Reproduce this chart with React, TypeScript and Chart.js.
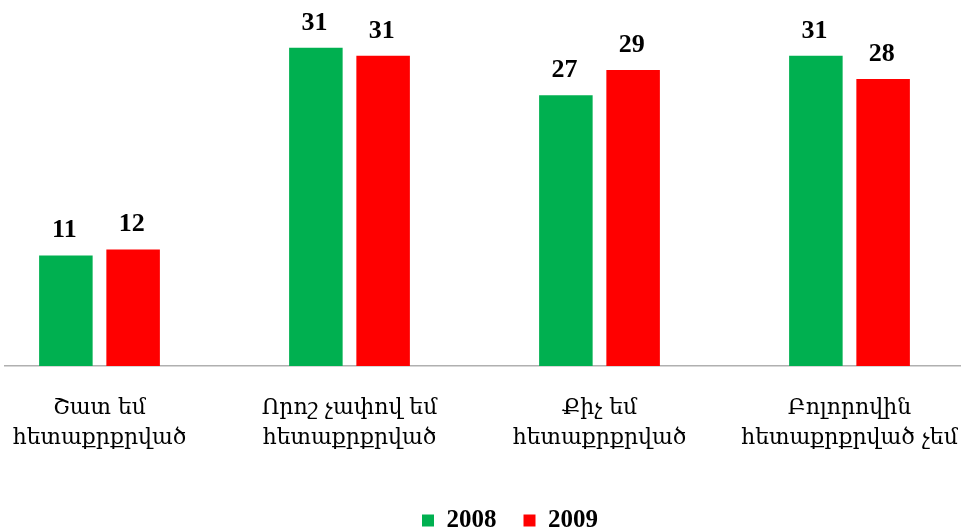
import React, { useEffect, useRef } from "react";
import { Chart, registerables } from "chart.js";

Chart.register(...registerables);

const categories: string[][] = [
  ["Շատ եմ", "հետաքրքրված"],
  ["Որոշ չափով եմ", "հետաքրքրված"],
  ["Քիչ եմ", "հետաքրքրված"],
  ["Բոլորովին", "հետաքրքրված չեմ"],
];
const seriesNames = ["2008", "2009"];
const values2008 = [10.9, 31.4, 26.7, 30.6];
const values2009 = [11.5, 30.6, 29.2, 28.3];
const seriesColors = ["#00B050", "#FF0000"];

const CANVAS_W = 1015;
const CANVAS_H = 543;
const X_MIN = -0.378;
const X_MAX = X_MIN + (CANVAS_W - 5) / 250;

const dataLabelPlugin = {
  id: "dataLabels",
  afterDatasetsDraw(chart: any) {
    const ctx = chart.ctx;
    ctx.save();
    ctx.font = 'bold 26px "Liberation Serif"';
    ctx.fillStyle = "#000";
    ctx.textAlign = "center";
    ctx.textBaseline = "alphabetic";
    chart.data.datasets.forEach((ds: any, di: number) => {
      const meta = chart.getDatasetMeta(di);
      meta.data.forEach((bar: any, i: number) => {
        const v = ds.data[i].y;
        ctx.fillText(String(Math.round(v)), bar.x - 1.5, bar.y - 18);
      });
    });
    ctx.restore();
  },
};

export default function App() {
  const canvasRef = useRef<HTMLCanvasElement | null>(null);

  useEffect(() => {
    if (!canvasRef.current) return;
    const seriesValues = [values2008, values2009];
    const chart = new Chart(canvasRef.current, {
      type: "bar",
      data: {
        datasets: seriesNames.map((name, si) => ({
          label: name,
          data: seriesValues[si].map((y, i) => ({ x: i, y })),
          backgroundColor: seriesColors[si],
          borderWidth: 0,
          categoryPercentage: 0.538,
          barPercentage: 0.796,
        })),
      },
      options: {
        animation: false,
        responsive: true,
        maintainAspectRatio: false,
        layout: { padding: { left: 5, right: 0, top: 1, bottom: 0 } },
        scales: {
          x: {
            type: "linear",
            min: X_MIN,
            max: X_MAX,
            offset: false,
            grid: { display: false, drawTicks: false },
            border: { display: true, color: "#B0B0B0", width: 1.5 },
            afterBuildTicks: (scale: any) => {
              scale.ticks = categories.map((_, i) => ({ value: i }));
            },
            afterFit: (scale: any) => {
              scale.height = 115;
              scale.paddingLeft = 0;
              scale.paddingRight = 0;
            },
            ticks: {
              autoSkip: false,
              maxRotation: 0,
              minRotation: 0,
              padding: 27,
              color: "#000",
              font: { family: '"DejaVu Serif"', size: 22, lineHeight: 1.36 },
              callback: (v: any) => categories[v] ?? "",
            },
          },
          y: {
            display: false,
            min: 0,
            max: 36,
          },
        },
        plugins: {
          legend: {
            position: "bottom",
            labels: {
              boxWidth: 12,
              boxHeight: 12,
              padding: 27,
              color: "#000",
              font: { family: '"Liberation Serif"', size: 25, weight: "bold" },
            },
          },
          tooltip: { enabled: false },
        },
      },
      plugins: [dataLabelPlugin],
    } as any);
    return () => chart.destroy();
  }, []);

  return (
    <div
      style={{
        position: "fixed",
        left: 0,
        top: 0,
        width: 961,
        height: 530,
        overflow: "hidden",
        background: "#fff",
      }}
    >
      <div style={{ position: "relative", width: CANVAS_W, height: CANVAS_H }}>
        <canvas ref={canvasRef} />
      </div>
    </div>
  );
}
